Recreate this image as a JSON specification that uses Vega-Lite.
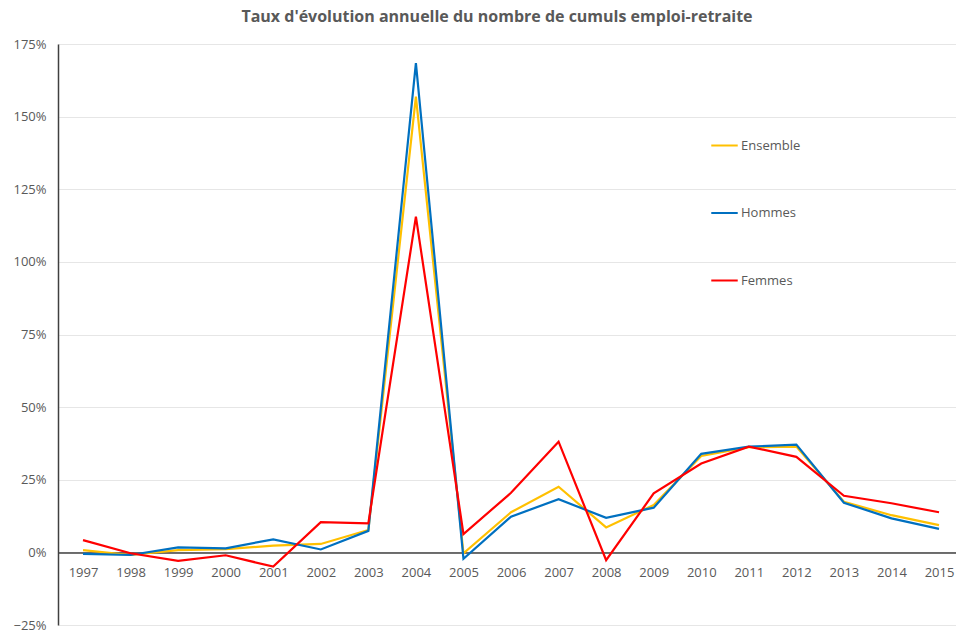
{
  "$schema": "https://vega.github.io/schema/vega-lite/v6.json",
  "autosize": {"type": "none"},
  "width": 898,
  "height": 581,
  "padding": {"left": 58, "top": 44, "right": 0, "bottom": 5},
  "background": "white",
  "title": {
    "text": "Taux d'évolution annuelle du nombre de cumuls emploi-retraite",
    "font": "Open Sans",
    "fontSize": 16,
    "fontWeight": "bold",
    "color": "#595959",
    "anchor": "middle",
    "dx": -10,
    "offset": 13
  },
  "config": {
    "view": {"stroke": null},
    "font": "Open Sans"
  },
  "data": {
    "values": [
      {"annee": 1997, "serie": "Ensemble", "taux": 0.008},
      {"annee": 1998, "serie": "Ensemble", "taux": -0.009},
      {"annee": 1999, "serie": "Ensemble", "taux": 0.008},
      {"annee": 2000, "serie": "Ensemble", "taux": 0.011},
      {"annee": 2001, "serie": "Ensemble", "taux": 0.023},
      {"annee": 2002, "serie": "Ensemble", "taux": 0.029},
      {"annee": 2003, "serie": "Ensemble", "taux": 0.077},
      {"annee": 2004, "serie": "Ensemble", "taux": 1.569},
      {"annee": 2005, "serie": "Ensemble", "taux": -0.003},
      {"annee": 2006, "serie": "Ensemble", "taux": 0.138},
      {"annee": 2007, "serie": "Ensemble", "taux": 0.226},
      {"annee": 2008, "serie": "Ensemble", "taux": 0.086},
      {"annee": 2009, "serie": "Ensemble", "taux": 0.163},
      {"annee": 2010, "serie": "Ensemble", "taux": 0.332},
      {"annee": 2011, "serie": "Ensemble", "taux": 0.362},
      {"annee": 2012, "serie": "Ensemble", "taux": 0.364},
      {"annee": 2013, "serie": "Ensemble", "taux": 0.174},
      {"annee": 2014, "serie": "Ensemble", "taux": 0.128},
      {"annee": 2015, "serie": "Ensemble", "taux": 0.094},
      {"annee": 1997, "serie": "Hommes", "taux": -0.005},
      {"annee": 1998, "serie": "Hommes", "taux": -0.009},
      {"annee": 1999, "serie": "Hommes", "taux": 0.017},
      {"annee": 2000, "serie": "Hommes", "taux": 0.014},
      {"annee": 2001, "serie": "Hommes", "taux": 0.045},
      {"annee": 2002, "serie": "Hommes", "taux": 0.010},
      {"annee": 2003, "serie": "Hommes", "taux": 0.074},
      {"annee": 2004, "serie": "Hommes", "taux": 1.684},
      {"annee": 2005, "serie": "Hommes", "taux": -0.022},
      {"annee": 2006, "serie": "Hommes", "taux": 0.123},
      {"annee": 2007, "serie": "Hommes", "taux": 0.183},
      {"annee": 2008, "serie": "Hommes", "taux": 0.119},
      {"annee": 2009, "serie": "Hommes", "taux": 0.154},
      {"annee": 2010, "serie": "Hommes", "taux": 0.339},
      {"annee": 2011, "serie": "Hommes", "taux": 0.364},
      {"annee": 2012, "serie": "Hommes", "taux": 0.371},
      {"annee": 2013, "serie": "Hommes", "taux": 0.171},
      {"annee": 2014, "serie": "Hommes", "taux": 0.117},
      {"annee": 2015, "serie": "Hommes", "taux": 0.081},
      {"annee": 1997, "serie": "Femmes", "taux": 0.042},
      {"annee": 1998, "serie": "Femmes", "taux": -0.003},
      {"annee": 1999, "serie": "Femmes", "taux": -0.029},
      {"annee": 2000, "serie": "Femmes", "taux": -0.010},
      {"annee": 2001, "serie": "Femmes", "taux": -0.049},
      {"annee": 2002, "serie": "Femmes", "taux": 0.104},
      {"annee": 2003, "serie": "Femmes", "taux": 0.100},
      {"annee": 2004, "serie": "Femmes", "taux": 1.156},
      {"annee": 2005, "serie": "Femmes", "taux": 0.063},
      {"annee": 2006, "serie": "Femmes", "taux": 0.205},
      {"annee": 2007, "serie": "Femmes", "taux": 0.381},
      {"annee": 2008, "serie": "Femmes", "taux": -0.027},
      {"annee": 2009, "serie": "Femmes", "taux": 0.203},
      {"annee": 2010, "serie": "Femmes", "taux": 0.306},
      {"annee": 2011, "serie": "Femmes", "taux": 0.364},
      {"annee": 2012, "serie": "Femmes", "taux": 0.329},
      {"annee": 2013, "serie": "Femmes", "taux": 0.195},
      {"annee": 2014, "serie": "Femmes", "taux": 0.169},
      {"annee": 2015, "serie": "Femmes", "taux": 0.138}
    ]
  },
  "mark": {"type": "line", "strokeWidth": 2.2, "strokeJoin": "miter"},
  "encoding": {
    "x": {
      "field": "annee",
      "type": "quantitative",
      "scale": {"domain": [1996.474, 2015.357], "nice": false, "zero": false},
      "axis": {
        "title": null,
        "values": [1997, 1998, 1999, 2000, 2001, 2002, 2003, 2004, 2005, 2006, 2007, 2008, 2009, 2010, 2011, 2012, 2013, 2014, 2015],
        "format": "d",
        "grid": false,
        "ticks": false,
        "offset": -72.6,
        "domainColor": "#404040",
        "domainWidth": 1.5,
        "labelColor": "#595959",
        "labelFontSize": 13,
        "labelPadding": 14,
        "labelFlush": false
      }
    },
    "y": {
      "field": "taux",
      "type": "quantitative",
      "scale": {"domain": [-0.25, 1.75], "nice": false},
      "axis": {
        "title": null,
        "values": [-0.25, 0, 0.25, 0.5, 0.75, 1, 1.25, 1.5, 1.75],
        "format": ".0%",
        "ticks": false,
        "domainColor": "#404040",
        "domainWidth": 1.5,
        "gridColor": "#e6e6e6",
        "gridWidth": 1,
        "labelColor": "#595959",
        "labelFontSize": 13,
        "labelPadding": 12
      }
    },
    "color": {
      "field": "serie",
      "type": "nominal",
      "scale": {"domain": ["Ensemble", "Hommes", "Femmes"], "range": ["#FFC000", "#0070C0", "#FF0000"]},
      "legend": {
        "title": null,
        "orient": "none",
        "legendX": 652,
        "legendY": 87,
        "symbolType": "stroke",
        "symbolSize": 700,
        "symbolStrokeWidth": 2,
        "labelFontSize": 13,
        "labelColor": "#595959",
        "labelOffset": 2,
        "rowPadding": 45.5
      }
    }
  }
}
